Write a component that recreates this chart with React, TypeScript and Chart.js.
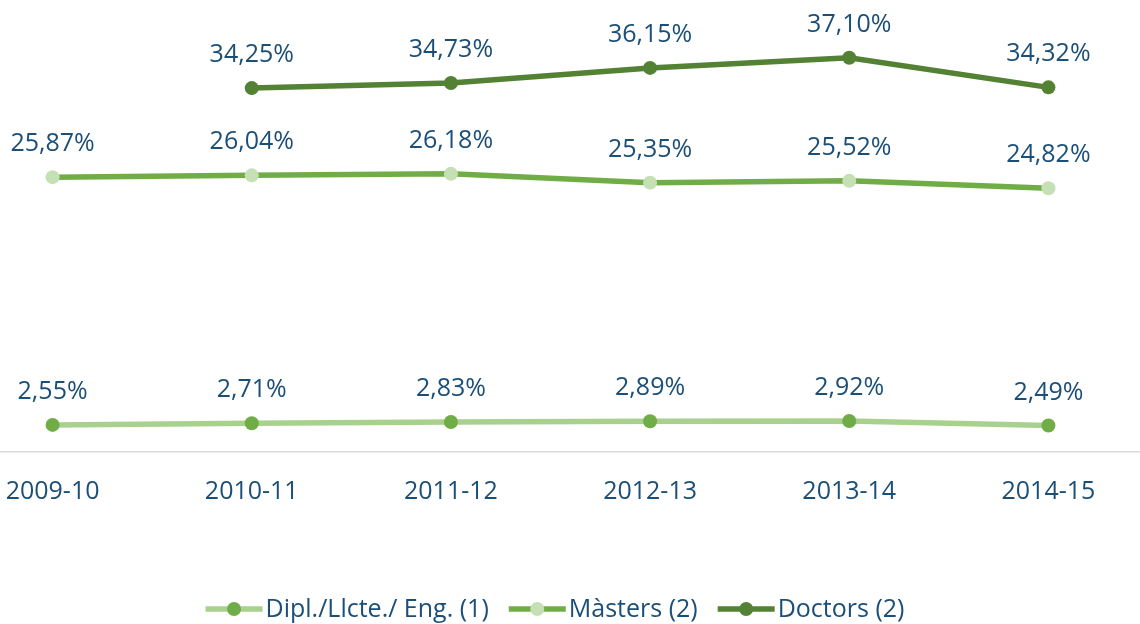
import React, { useEffect, useRef } from "react";
import { Chart, registerables } from "chart.js";

Chart.register(...registerables);

const categories = ["2009-10", "2010-11", "2011-12", "2012-13", "2013-14", "2014-15"];
const diplValues = [2.55, 2.71, 2.83, 2.89, 2.92, 2.49];
const mastersValues = [25.87, 26.04, 26.18, 25.35, 25.52, 24.82];
const doctorsValues: (number | null)[] = [null, 34.25, 34.73, 36.15, 37.1, 34.32];
const seriesNames = ["Dipl./Llcte./ Eng. (1)", "Màsters (2)", "Doctors (2)"];

const TEXT_COLOR = "#1b4f78";
const FONT_FAMILY = "'Open Sans', sans-serif";
const FONT_SIZE = 25;

const CANVAS_LEFT = -54;
const CANVAS_W = 1209;
const CANVAS_H = 624;

const fmt = (v: number) => v.toFixed(2).replace(".", ",") + "%";

const dataLabelPlugin = {
  id: "pctLabels",
  afterDatasetsDraw(chart: any) {
    const ctx = chart.ctx;
    ctx.save();
    ctx.font = `${FONT_SIZE}px ${FONT_FAMILY}`;
    ctx.fillStyle = TEXT_COLOR;
    ctx.textAlign = "center";
    ctx.textBaseline = "middle";
    chart.data.datasets.forEach((ds: any, i: number) => {
      const meta = chart.getDatasetMeta(i);
      meta.data.forEach((pt: any, j: number) => {
        const v = ds.data[j];
        if (v == null) return;
        ctx.fillText(fmt(v), pt.x, pt.y - 33);
      });
    });
    ctx.restore();
  },
};

const legendPlugin = {
  id: "customLegend",
  afterDraw(chart: any) {
    const ctx = chart.ctx;
    ctx.save();
    ctx.font = `${FONT_SIZE}px ${FONT_FAMILY}`;
    const sampleW = 57;
    const gapText = 3;
    const gapItem = 20;
    const ds = chart.data.datasets;
    const widths = ds.map((d: any) => ctx.measureText(d.label).width);
    let total = 0;
    widths.forEach((w: number, i: number) => {
      total += sampleW + gapText + w + (i < widths.length - 1 ? gapItem : 0);
    });
    const centerX = 555 - CANVAS_LEFT;
    const y = 609;
    let x = centerX - total / 2;
    ds.forEach((d: any, i: number) => {
      ctx.strokeStyle = d.borderColor;
      ctx.lineWidth = d.borderWidth;
      ctx.beginPath();
      ctx.moveTo(x, y);
      ctx.lineTo(x + sampleW, y);
      ctx.stroke();
      ctx.fillStyle = d.pointBackgroundColor;
      ctx.beginPath();
      ctx.arc(x + sampleW / 2, y, 7, 0, Math.PI * 2);
      ctx.fill();
      ctx.fillStyle = TEXT_COLOR;
      ctx.textAlign = "left";
      ctx.textBaseline = "middle";
      ctx.fillText(d.label, x + sampleW + gapText, y + 1);
      x += sampleW + gapText + widths[i] + gapItem;
    });
    ctx.restore();
  },
};

export default function App() {
  const canvasRef = useRef<HTMLCanvasElement | null>(null);

  useEffect(() => {
    if (!canvasRef.current) return;
    const chart = new Chart(canvasRef.current, {
      type: "line",
      data: {
        labels: categories,
        datasets: [
          {
            label: seriesNames[0],
            data: diplValues,
            borderColor: "#a9d18e",
            borderWidth: 5.5,
            pointBackgroundColor: "#70ad47",
            pointBorderWidth: 0,
            pointRadius: 7,
            tension: 0,
          },
          {
            label: seriesNames[1],
            data: mastersValues,
            borderColor: "#70ad47",
            borderWidth: 5.5,
            pointBackgroundColor: "#c5e0b4",
            pointBorderWidth: 0,
            pointRadius: 7,
            tension: 0,
          },
          {
            label: seriesNames[2],
            data: doctorsValues,
            borderColor: "#548235",
            borderWidth: 5.5,
            pointBackgroundColor: "#548235",
            pointBorderWidth: 0,
            pointRadius: 7,
            tension: 0,
          },
        ],
      },
      options: {
        responsive: false,
        animation: false,
        devicePixelRatio: 1,
        layout: { padding: { top: 27, left: 0, right: 0, bottom: 0 } },
        plugins: {
          legend: { display: false },
          tooltip: { enabled: false },
        },
        scales: {
          x: {
            offset: true,
            grid: { display: false, drawTicks: false },
            border: { display: true, color: "#d9d9d9", width: 1.5 },
            ticks: {
              color: TEXT_COLOR,
              font: { family: FONT_FAMILY, size: FONT_SIZE },
              padding: 25,
              maxRotation: 0,
              autoSkip: false,
            },
            afterFit: (scale: any) => {
              scale.height = CANVAS_H - 452;
            },
          },
          y: {
            display: false,
            min: 0,
            max: 40,
          },
        },
      },
      plugins: [dataLabelPlugin, legendPlugin],
    });
    return () => chart.destroy();
  }, []);

  return (
    <div
      style={{
        position: "fixed",
        left: 0,
        top: 0,
        width: 1140,
        height: 624,
        overflow: "hidden",
        background: "#ffffff",
      }}
    >
      <canvas
        ref={canvasRef}
        width={CANVAS_W}
        height={CANVAS_H}
        style={{ position: "absolute", left: CANVAS_LEFT, top: 0, width: CANVAS_W, height: CANVAS_H }}
      />
    </div>
  );
}
